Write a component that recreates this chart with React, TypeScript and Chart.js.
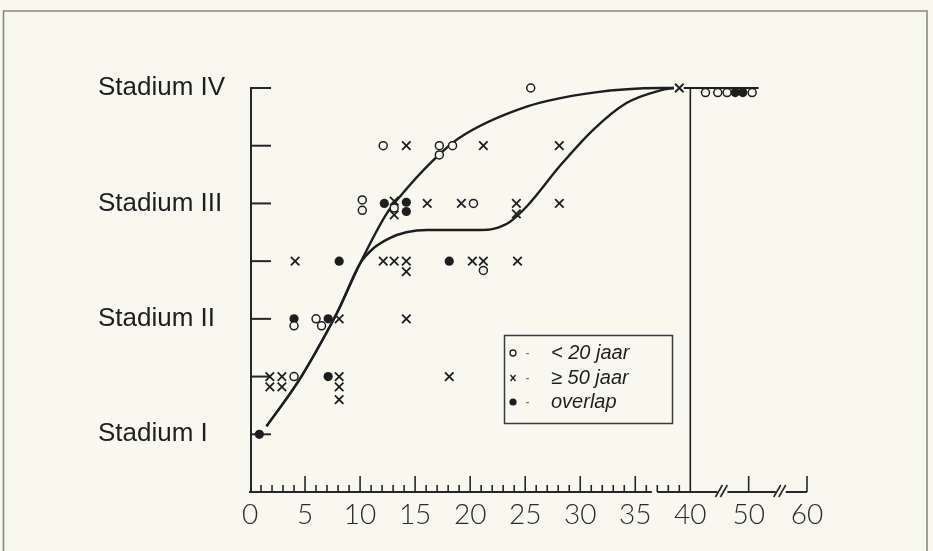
import React, { useEffect, useRef } from "react";
import { Chart, registerables } from "chart.js";

Chart.register(...registerables);

// ---- axis description ----
const X_BREAK = 40;
const X_COMPRESS = 0.53; // 40..60 drawn compressed after the axis break
const mapX = (v: number) => (v <= X_BREAK ? v : X_BREAK + (v - X_BREAK) * X_COMPRESS);

const xTickLabels = [0, 5, 10, 15, 20, 25, 30, 35, 40, 50, 60];
const xMinorTicks = [1, 2, 3, 4, 6, 7, 8, 9, 11, 12, 13, 14, 16, 17, 18, 19, 21, 22, 23, 24, 26, 27, 28, 29, 31, 32, 33, 34, 36, 37, 38, 39];
const xAxisGapFrom = 36.5;
const xAxisGapTo = 37;
const xBreaks = [45.5, 55.5];

const yLevels = [1, 2, 3, 4];
const yLevelLabels = ["Stadium I", "Stadium II", "Stadium III", "Stadium IV"];
const yTickLevels = [1, 1.5, 2, 2.5, 3, 3.5, 4];

// ---- data: age (years) vs stadium ----
// < 20 jaar (open circles)
const youngX = [12.1, 17.2, 17.2, 18.4, 25.5, 10.2, 10.2, 13.1, 20.3, 21.2, 4.0, 6.0, 6.5, 4.0, 42.6, 44.7, 46.3, 50.6];
const youngY = [3.5, 3.5, 3.42, 3.5, 4.0, 3.03, 2.94, 2.96, 3.0, 2.42, 1.94, 2.0, 1.94, 1.5, 3.96, 3.96, 3.96, 3.96];

// >= 50 jaar (crosses)
const oldX = [14.2, 21.2, 28.1, 39, 13.1, 13.1, 16.1, 19.2, 24.2, 24.2, 28.1, 4.1, 12.1, 13.1, 14.2, 14.2, 20.2, 21.2, 24.3, 8.1, 14.2, 1.8, 1.8, 2.9, 2.9, 8.1, 8.1, 8.1, 18.1];
const oldY = [3.5, 3.5, 3.5, 4.0, 3.02, 2.9, 3.0, 3.0, 3.0, 2.91, 3.0, 2.5, 2.5, 2.5, 2.5, 2.41, 2.5, 2.5, 2.5, 2.0, 2.0, 1.5, 1.41, 1.5, 1.41, 1.5, 1.41, 1.3, 1.5];

// overlap (filled dots)
const overlapX = [12.2, 14.2, 14.2, 8.1, 18.1, 4.0, 7.1, 7.1, 0.85, 47.7, 49.0];
const overlapY = [3.0, 3.01, 2.93, 2.5, 2.5, 2.0, 2.0, 1.5, 1.0, 3.96, 3.96];

// hand-drawn trend curves
const upperCurveX = [1.5, 4.4, 7.4, 8.2, 10.0, 12.4, 13.8, 16.5, 18.9, 25.2, 31.2, 37.3, 38.5];
const upperCurveY = [1.07, 1.46, 1.96, 2.11, 2.48, 2.91, 3.08, 3.36, 3.56, 3.84, 3.96, 4.0, 4.0];
const lowerCurveX = [1.5, 4.4, 7.4, 8.2, 10.0, 11.2, 12.7, 14.2, 16.1, 20.9, 22.1, 23.6, 25.2, 28.2, 31.2, 34.2, 37.3, 38.5];
const lowerCurveY = [1.07, 1.46, 1.96, 2.11, 2.48, 2.61, 2.7, 2.75, 2.77, 2.77, 2.78, 2.84, 2.98, 3.33, 3.64, 3.87, 3.98, 4.0];
const plateauX = [39.4, 51.7];
const plateauY = [4.0, 4.0];
const dividerX = [40, 40];
const dividerY = [4.0, 0.5];

const legendItems = ["< 20 jaar", "≥ 50 jaar", "overlap"];

const PAPER = "#f9f8ef";
const INK = "#1e1e1e";

const pts = (xs: number[], ys: number[]) => xs.map((x, i) => ({ x: mapX(x), y: ys[i] }));

const decorPlugin = {
  id: "decor",
  beforeDraw(chart: any) {
    const { ctx, width, height } = chart;
    ctx.save();
    ctx.fillStyle = PAPER;
    ctx.fillRect(0, 0, width, height);
    ctx.strokeStyle = "#858a80";
    ctx.lineWidth = 1.6;
    ctx.beginPath();
    ctx.moveTo(3.5, height);
    ctx.lineTo(3.5, 11);
    ctx.lineTo(927, 11);
    ctx.lineTo(927, height);
    ctx.stroke();
    ctx.restore();
  },
  beforeDatasetsDraw(chart: any) {
    const { ctx, chartArea } = chart;
    const xs = chart.scales.x;
    const ys = chart.scales.y;
    const px = (v: number) => xs.getPixelForValue(mapX(v));
    const bottom = chartArea.bottom;
    const left = chartArea.left + 1;
    ctx.save();
    ctx.strokeStyle = "#262626";
    ctx.lineCap = "butt";
    // y axis
    ctx.lineWidth = 2;
    ctx.beginPath();
    ctx.moveTo(left, bottom);
    ctx.lineTo(left, ys.getPixelForValue(4) - 1);
    ctx.stroke();
    yTickLevels.forEach((v) => {
      const y = ys.getPixelForValue(v);
      ctx.beginPath();
      ctx.moveTo(left - 1, y);
      ctx.lineTo(left + 20, y);
      ctx.stroke();
    });
    // x axis with gap and breaks
    const bw = 5;
    const segs: [number, number][] = [
      [px(0) - 1, px(xAxisGapFrom)],
      [px(xAxisGapTo), px(xBreaks[0]) - bw],
      [px(xBreaks[0]) + bw, px(xBreaks[1]) - bw],
      [px(xBreaks[1]) + bw, px(60)],
    ];
    ctx.lineWidth = 2;
    segs.forEach(([a, b]) => {
      ctx.beginPath();
      ctx.moveTo(a, bottom);
      ctx.lineTo(b, bottom);
      ctx.stroke();
    });
    ctx.lineWidth = 1.6;
    xBreaks.forEach((b) => {
      const c = px(b);
      [-bw, 0].forEach((o) => {
        ctx.beginPath();
        ctx.moveTo(c + o - 2, bottom + 5);
        ctx.lineTo(c + o + 5, bottom - 7);
        ctx.stroke();
      });
    });
    // minor ticks
    ctx.lineWidth = 1.6;
    xMinorTicks.forEach((v) => {
      const x = px(v);
      ctx.beginPath();
      ctx.moveTo(x, bottom);
      ctx.lineTo(x, bottom - 7);
      ctx.stroke();
    });
    // major ticks
    xTickLabels.forEach((v) => {
      if (v === 0 || v === 40) return;
      const x = px(v);
      ctx.beginPath();
      ctx.moveTo(x, bottom);
      ctx.lineTo(x, bottom - 16);
      ctx.stroke();
    });
    ctx.restore();
  },
  afterDraw(chart: any) {
    const { ctx } = chart;
    ctx.save();
    // legend box
    ctx.strokeStyle = "#3a3a3a";
    ctx.lineWidth = 1.5;
    ctx.strokeRect(504.5, 335.5, 168, 88);
    const rows = [353, 378, 402];
    const mx = 513;
    ctx.fillStyle = INK;
    ctx.strokeStyle = INK;
    ctx.lineWidth = 1.3;
    // circle
    ctx.beginPath();
    ctx.arc(mx, rows[0], 3, 0, Math.PI * 2);
    ctx.stroke();
    // cross
    ctx.beginPath();
    ctx.moveTo(mx - 2.5, rows[1] - 3);
    ctx.lineTo(mx + 2.5, rows[1] + 3);
    ctx.moveTo(mx + 2.5, rows[1] - 3);
    ctx.lineTo(mx - 2.5, rows[1] + 3);
    ctx.stroke();
    // dot
    ctx.beginPath();
    ctx.arc(mx, rows[2], 3.6, 0, Math.PI * 2);
    ctx.fill();
    // dashes
    ctx.fillStyle = "#777";
    rows.forEach((r) => ctx.fillRect(526, r, 3, 1.2));
    // texts
    ctx.fillStyle = INK;
    ctx.font = "italic 20px 'Liberation Sans', Arial, sans-serif";
    ctx.textBaseline = "alphabetic";
    ctx.textAlign = "left";
    const baselines = [359, 384, 408];
    legendItems.forEach((t, i) => ctx.fillText(t, 551, baselines[i]));
    ctx.restore();
  },
};

export default function App() {
  const ref = useRef<HTMLCanvasElement | null>(null);

  useEffect(() => {
    if (!ref.current) return;
    const lineStyle = {
      type: "line" as const,
      borderColor: INK,
      borderWidth: 2.4,
      pointRadius: 0,
      fill: false,
      clip: false as const,
      cubicInterpolationMode: "monotone" as const,
      order: 2,
    };
    const chart = new Chart(ref.current, {
      type: "scatter",
      data: {
        datasets: [
          {
            label: "< 20 jaar",
            data: pts(youngX, youngY),
            pointStyle: "circle",
            pointRadius: 4,
            borderWidth: 1.5,
            borderColor: INK,
            backgroundColor: PAPER,
            clip: false,
            order: 0,
          },
          {
            label: "≥ 50 jaar",
            data: pts(oldX, oldY),
            pointStyle: "crossRot",
            pointRadius: 6,
            borderWidth: 1.8,
            borderColor: INK,
            backgroundColor: INK,
            clip: false,
            order: 0,
          },
          {
            label: "overlap",
            data: pts(overlapX, overlapY),
            pointStyle: "circle",
            pointRadius: 4.6,
            borderWidth: 0,
            borderColor: INK,
            backgroundColor: INK,
            clip: false,
            order: 0,
          },
          { ...lineStyle, label: "upper", data: pts(upperCurveX, upperCurveY) },
          { ...lineStyle, label: "lower", data: pts(lowerCurveX, lowerCurveY) },
          { ...lineStyle, label: "plateau", borderWidth: 2, cubicInterpolationMode: "default", data: pts(plateauX, plateauY) },
          { ...lineStyle, label: "divider", borderWidth: 1.6, cubicInterpolationMode: "default", data: pts(dividerX, dividerY) },
        ],
      },
      options: {
        responsive: false,
        animation: false,
        devicePixelRatio: 1,
        layout: { padding: { top: 88, left: 98, right: 126, bottom: 0 } },
        plugins: { legend: { display: false }, tooltip: { enabled: false } },
        scales: {
          x: {
            type: "linear",
            min: 0,
            max: mapX(60),
            grid: { display: false },
            border: { display: false },
            afterBuildTicks: (scale: any) => {
              scale.ticks = xTickLabels.map((v) => ({ value: mapX(v) }));
            },
            afterFit: (scale: any) => {
              scale.height = 59;
            },
            ticks: {
              autoSkip: false,
              maxRotation: 0,
              padding: -2,
              color: "#2a2a2a",
              font: { family: "Lato, 'DejaVu Sans', sans-serif", size: 28, weight: "300" },
              callback: (_v: any, i: number) => String(xTickLabels[i]),
            },
          },
          y: {
            type: "linear",
            min: 0.5,
            max: 4,
            grid: { display: false },
            border: { display: false },
            afterBuildTicks: (scale: any) => {
              scale.ticks = yLevels.map((v) => ({ value: v }));
            },
            afterFit: (scale: any) => {
              scale.width = 152;
            },
            ticks: {
              autoSkip: false,
              crossAlign: "far",
              color: INK,
              font: { family: "'Liberation Sans', Arial, sans-serif", size: 26 },
              callback: (_v: any, i: number) => yLevelLabels[i],
            },
          },
        },
      },
      plugins: [decorPlugin],
    });
    return () => chart.destroy();
  }, []);

  return (
    <div style={{ position: "fixed", left: 0, top: 0, width: 933, height: 551, background: PAPER }}>
      <canvas ref={ref} width={933} height={551} style={{ display: "block" }} />
    </div>
  );
}
